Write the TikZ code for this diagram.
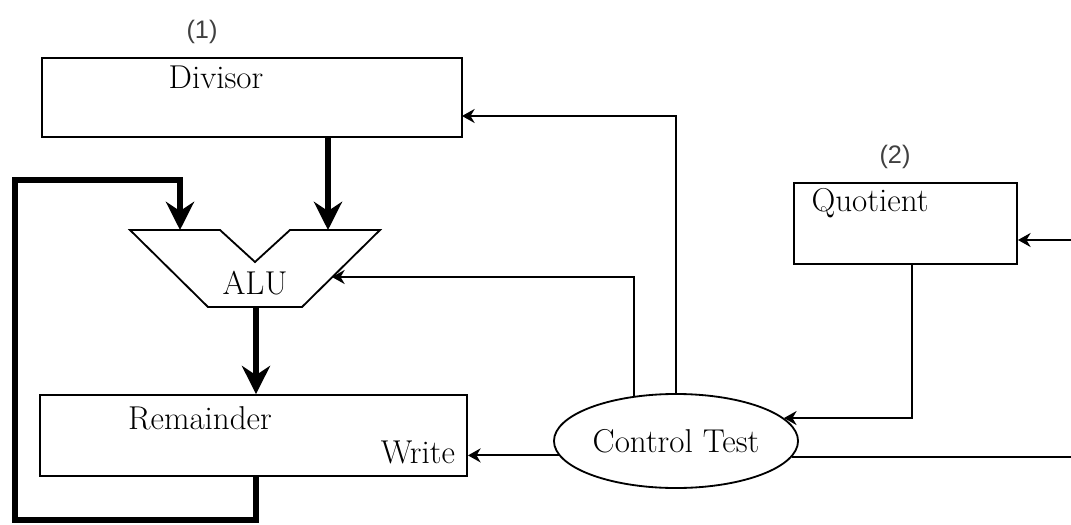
\documentclass[tikz,border=0pt]{standalone}
\usepackage{fontspec}
\setsansfont{Liberation Sans}
\usepackage{tikz}
\usetikzlibrary{positioning,arrows.meta,shapes.geometric}

\begin{document}
\begin{tikzpicture}[
    x=0.025cm, y=-0.025cm,
    reg/.style={rectangle, draw, line width=1.3pt, inner sep=0pt},
    ctrl/.style={ellipse, draw, line width=1.3pt, inner sep=0pt, minimum width=6.1cm, minimum height=2.35cm},
    lbl/.style={font=\fontsize{23.5}{28}\selectfont, inner sep=0pt},
    num/.style={font=\sffamily\fontsize{18}{22}\selectfont, color=black!75, inner sep=0pt},
    bus/.style={line width=4.5pt},
    busarr/.style={bus, -{Stealth[length=20pt, width=20pt]}},
    sig/.style={line width=1.3pt, -{Stealth[length=9pt, width=10pt]}},
    wire/.style={line width=1.3pt}
]
\useasboundingbox (0,0) rectangle (1071,525);

% registers
\node[reg, minimum width=10.5cm, minimum height=1.975cm] (divisor) at (252,97.5) {};
\node[lbl] (divisorTxt) at (216,77) {Divisor};
\node[num] (n1) at (202,32) {(1)};

\node[reg, minimum width=10.675cm, minimum height=2.025cm] (remainder) at (253.5,435.5) {};
\node[lbl] (remainderTxt) at (200,418) {Remainder};
\node[lbl] (writeTxt) at (418,452) {Write};

\node[reg, minimum width=5.575cm, minimum height=2.025cm] (quotient) at (905.5,223.5) {};
\node[lbl] (quotientTxt) at (870,203) {Quotient};
\node[num] (n2) at (895,157) {(2)};

\node[ctrl] (ctrl) at (676,441) {};
\node[lbl] (ctrlTxt) at (ctrl) {Control Test};

% ALU
\draw[line width=1.3pt, line join=miter] (130,230) -- (220,230) -- (255,262) -- (290,230)
    -- (380,230) -- (302,307) -- (208,307) -- cycle;
\node[lbl] (alu) at (255,283) {ALU};
\coordinate (aluL) at (180,230);
\coordinate (aluR) at (328,230);
\coordinate (aluB) at (256,307);
\coordinate (aluIn) at (332,277);

% data paths
\draw[busarr] (aluR |- divisor.south) -- (aluR);
\draw[busarr] (aluB) -- (aluB |- remainder.north);
\draw[busarr, line join=miter] (aluB |- remainder.south) -- (256,520) -- (15,520) -- (15,180) -| (aluL);

% control signals
\coordinate (divIn) at (462,116);
\coordinate (inQ) at (1071,240);
\coordinate (outR) at (1071,457);
\draw[sig] (ctrl.north) |- (divIn);
\draw[sig] (ctrl.133) |- (aluIn);
\draw[sig] (ctrl.187) -- (remainder.east |- ctrl.187);
\draw[sig] ([xshift=0.16cm]quotient.south) |- (ctrl.12);
\draw[sig] (inQ) -- (quotient.east |- inQ);
\draw[wire] (ctrl.352) -- (outR |- ctrl.352);
\end{tikzpicture}
\end{document}
